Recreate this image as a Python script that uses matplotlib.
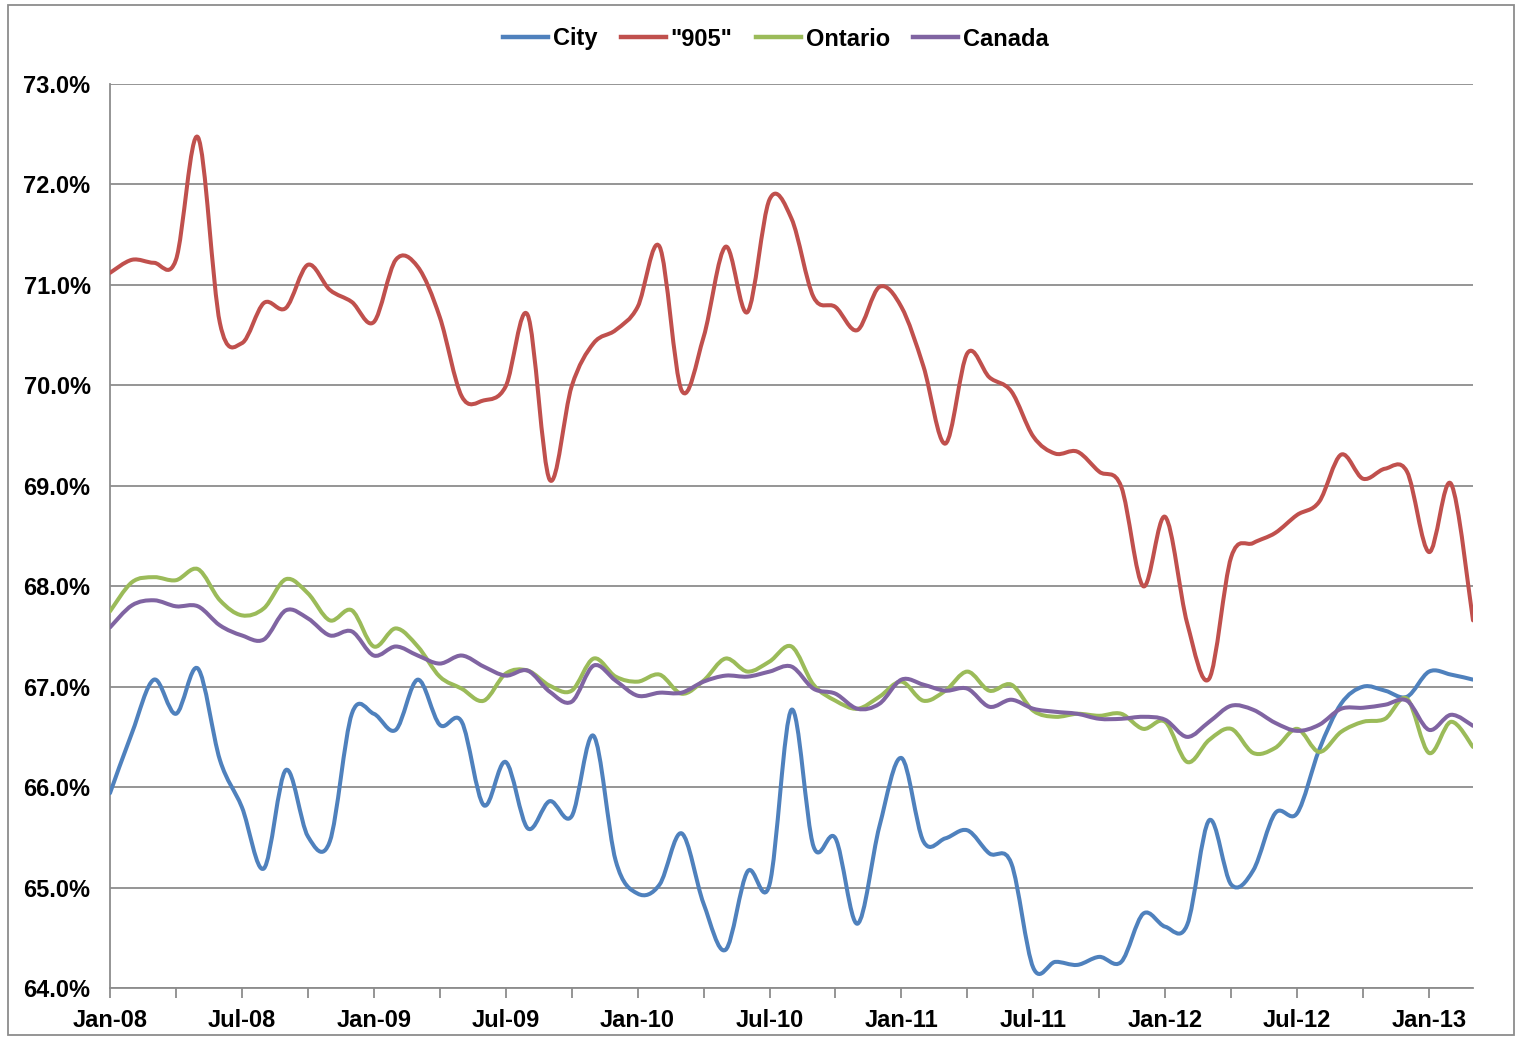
import numpy as np
import matplotlib
matplotlib.use("Agg")
import matplotlib.pyplot as plt
from matplotlib.path import Path
from matplotlib.patches import PathPatch, Rectangle
from matplotlib.lines import Line2D
from matplotlib.ticker import FixedLocator, FuncFormatter

plt.rcParams['font.family'] = ['Liberation Sans', 'DejaVu Sans']

# monthly values, Jan-08 .. Mar-13
city = [65.94, 66.54, 67.07, 66.73, 67.18, 66.27, 65.80, 65.19, 66.17, 65.51,
        65.46, 66.73, 66.73, 66.57, 67.07, 66.62, 66.65, 65.82, 66.25, 65.59,
        65.86, 65.71, 66.51, 65.27, 64.94, 65.03, 65.54, 64.84, 64.38, 65.16,
        65.03, 66.77, 65.41, 65.49, 64.64, 65.61, 66.29, 65.46, 65.49, 65.57,
        65.34, 65.24, 64.20, 64.26, 64.23, 64.31, 64.26, 64.74, 64.61, 64.63,
        65.67, 65.03, 65.17, 65.74, 65.74, 66.37, 66.83, 67.00, 66.96, 66.90,
        67.15, 67.12, 67.07]
gta905 = [71.12, 71.25, 71.22, 71.25, 72.47, 70.62, 70.42, 70.82, 70.77, 71.20,
          70.95, 70.83, 70.63, 71.25, 71.18, 70.68, 69.89, 69.85, 69.99, 70.70,
          69.06, 69.99, 70.42, 70.55, 70.78, 71.38, 69.95, 70.48, 71.38, 70.73,
          71.85, 71.66, 70.88, 70.78, 70.55, 70.98, 70.78, 70.19, 69.42, 70.32,
          70.08, 69.94, 69.49, 69.32, 69.34, 69.14, 68.99, 68.00, 68.69, 67.63,
          67.08, 68.29, 68.43, 68.53, 68.71, 68.84, 69.31, 69.07, 69.17, 69.14,
          68.34, 69.02, 67.66]
ontario = [67.75, 68.04, 68.09, 68.06, 68.17, 67.86, 67.71, 67.78, 68.07, 67.93,
           67.66, 67.76, 67.40, 67.58, 67.40, 67.10, 66.98, 66.86, 67.13, 67.16,
           67.01, 66.96, 67.28, 67.10, 67.05, 67.12, 66.93, 67.06, 67.28, 67.15,
           67.25, 67.40, 67.02, 66.86, 66.78, 66.90, 67.05, 66.86, 66.96, 67.15,
           66.96, 67.02, 66.76, 66.70, 66.73, 66.71, 66.73, 66.58, 66.65, 66.25,
           66.47, 66.58, 66.34, 66.39, 66.58, 66.35, 66.55, 66.65, 66.68, 66.88,
           66.34, 66.65, 66.40]
canada = [67.59, 67.81, 67.86, 67.80, 67.80, 67.61, 67.51, 67.47, 67.76, 67.68,
          67.51, 67.55, 67.31, 67.40, 67.31, 67.23, 67.31, 67.20, 67.11, 67.16,
          66.95, 66.85, 67.21, 67.06, 66.91, 66.94, 66.94, 67.05, 67.11, 67.10,
          67.15, 67.20, 66.98, 66.93, 66.78, 66.83, 67.07, 67.02, 66.96, 66.98,
          66.80, 66.87, 66.78, 66.75, 66.73, 66.68, 66.68, 66.70, 66.67, 66.50,
          66.65, 66.81, 66.77, 66.64, 66.56, 66.62, 66.78, 66.79, 66.82, 66.86,
          66.57, 66.72, 66.61]

series_names = ['City', '"905"', 'Ontario', 'Canada']
series_colors = ['#4F81BD', '#C0504D', '#9BBB59', '#8064A2']
tick_labels = ['Jan-08', 'Jul-08', 'Jan-09', 'Jul-09', 'Jan-10', 'Jul-10',
               'Jan-11', 'Jul-11', 'Jan-12', 'Jul-12', 'Jan-13']


def smooth_path(values):
    # excel-style smoothed line: cubic bezier through each point
    x = np.arange(len(values), dtype=float)
    y = np.asarray(values, dtype=float)
    n = len(y)
    verts = [(x[0], y[0])]
    codes = [Path.MOVETO]
    for i in range(n - 1):
        i0 = max(i - 1, 0)
        i3 = min(i + 2, n - 1)
        c1 = (x[i] + (x[i + 1] - x[i0]) / 6, y[i] + (y[i + 1] - y[i0]) / 6)
        c2 = (x[i + 1] - (x[i3] - x[i]) / 6, y[i + 1] - (y[i3] - y[i]) / 6)
        verts += [c1, c2, (x[i + 1], y[i + 1])]
        codes += [Path.CURVE4] * 3
    return Path(verts, codes)


fig = plt.figure(figsize=(15.18, 10.37), dpi=100)
ax = fig.add_axes([110 / 1518, 1 - 988 / 1037, (1473 - 110) / 1518, (988 - 84) / 1037])

all_series = [city, gta905, ontario, canada]
handles = []
for vals, name, col in zip(all_series, series_names, series_colors):
    ax.add_patch(PathPatch(smooth_path(vals), fill=False, edgecolor=col,
                           lw=2.9, capstyle='round', joinstyle='round', zorder=3))
    handles.append(Line2D([], [], color=col, lw=3.2, label=name))

ax.set_xlim(0, len(city) - 1)
ax.set_ylim(64, 73)
ax.set_yticks(np.arange(64, 73.5, 1))
ax.yaxis.set_major_formatter(FuncFormatter(lambda v, p: f'{v:.1f}%'))
ax.grid(axis='y', color='#8C8C8C', lw=1.3, zorder=1)
ax.set_axisbelow(True)

ax.xaxis.set_major_locator(FixedLocator(np.arange(0, len(city), 6)))
ax.xaxis.set_minor_locator(FixedLocator(np.arange(0, len(city), 3)))
ax.set_xticklabels(tick_labels)
ax.tick_params(axis='x', which='both', length=7, width=1.3, color='#8C8C8C',
               direction='out', pad=8)
ax.tick_params(axis='y', length=0, pad=14)

for lab in ax.get_xticklabels() + ax.get_yticklabels():
    lab.set_fontsize(17)
    lab.set_fontweight('bold')

for side in ['top', 'right']:
    ax.spines[side].set_visible(False)
for side in ['left', 'bottom']:
    ax.spines[side].set_color('#8C8C8C')
    ax.spines[side].set_linewidth(1.3)

fig.legend(handles=handles, loc='center', bbox_to_anchor=(776 / 1518, 1 - 39 / 1037),
           ncol=4, frameon=False, handlelength=1.9, handletextpad=0.2,
           columnspacing=1.0, prop={'size': 17, 'weight': 'bold'})

fig.patches.append(Rectangle((8 / 1518, 2 / 1037), 1506 / 1518, 1030 / 1037,
                             transform=fig.transFigure, fill=False,
                             edgecolor='#8C8C8C', lw=1.3))

fig.savefig('out.png', dpi=100)
